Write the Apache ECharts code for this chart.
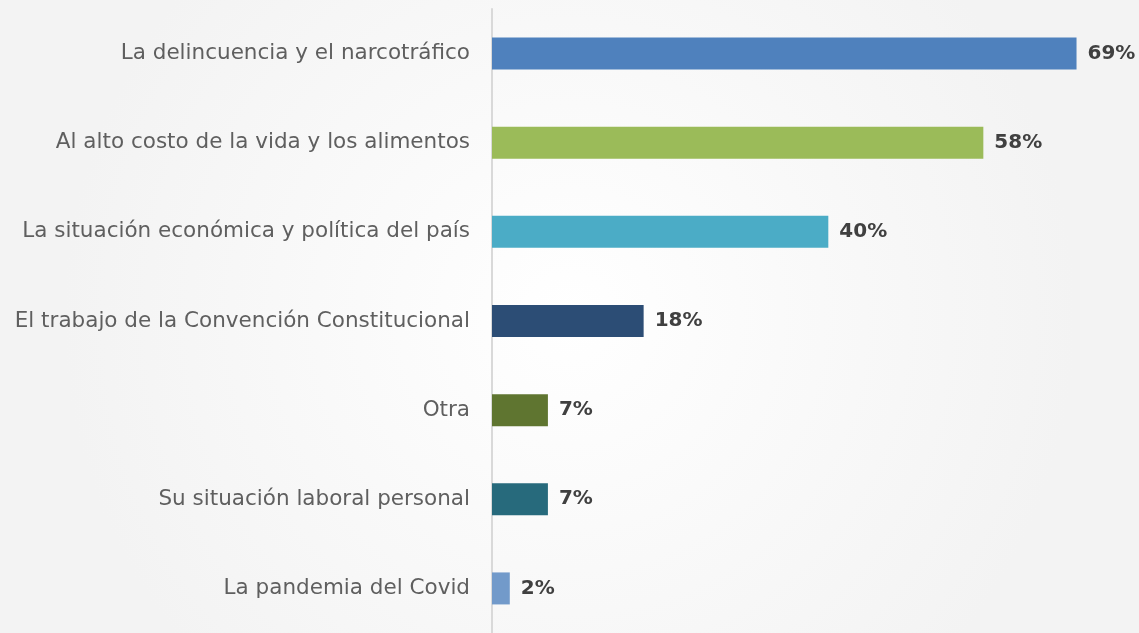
<!DOCTYPE html>
<html style="height: 100%">
<head>
<meta charset="utf-8">
<script src="https://cdn.jsdelivr.net/npm/echarts@6/dist/echarts.min.js"></script>
</head>
<body style="height: 100%; margin: 0">
<div id="container" style="width: 1139px; height: 633px"></div>
<script>
// categories, top to bottom
var categories = [
    'La delincuencia y el narcotráfico',
    'Al alto costo de la vida y los alimentos',
    'La situación económica y política del país',
    'El trabajo de la Convención Constitucional',
    'Otra',
    'Su situación laboral personal',
    'La pandemia del Covid'
];
// values (labels are rounded)
var values = [69, 58, 39.7, 17.9, 6.6, 6.6, 2.1];
var barColors = ['#4f81bd', '#9bbb59', '#4bacc6', '#2c4d75', '#5f7530', '#276a7c', '#729aca'];

var dom = document.getElementById('container');
var myChart = echarts.init(dom);

var option = {
    backgroundColor: {
        type: 'radial', x: 0.5, y: 0.5, r: 0.8,
        colorStops: [{ offset: 0, color: '#ffffff' }, { offset: 1, color: '#f3f3f3' }]
    },
    animation: false,
    grid: { left: 492, right: 54, top: 9, height: 626 },
    xAxis: {
        type: 'value', min: 0, max: 70,
        show: false
    },
    yAxis: {
        type: 'category',
        inverse: true,
        data: categories,
        axisLine: { lineStyle: { color: '#d9d9d9', width: 2 } },
        axisTick: { show: false },
        axisLabel: {
            margin: 22,
            color: '#5f5f5f',
            fontFamily: 'DejaVu Sans',
            fontSize: 21.5
        }
    },
    series: [{
        type: 'bar',
        barWidth: 32,
        data: values.map(function (v, i) {
            return { value: v, itemStyle: { color: barColors[i] } };
        }),
        label: {
            show: true,
            position: 'right',
            distance: 11,
            color: '#404040',
            fontFamily: 'DejaVu Sans',
            fontWeight: 'bold',
            fontSize: 20,
            formatter: function (p) { return Math.round(p.value) + '%'; }
        }
    }]
};

myChart.setOption(option);
</script>
</body>
</html>
